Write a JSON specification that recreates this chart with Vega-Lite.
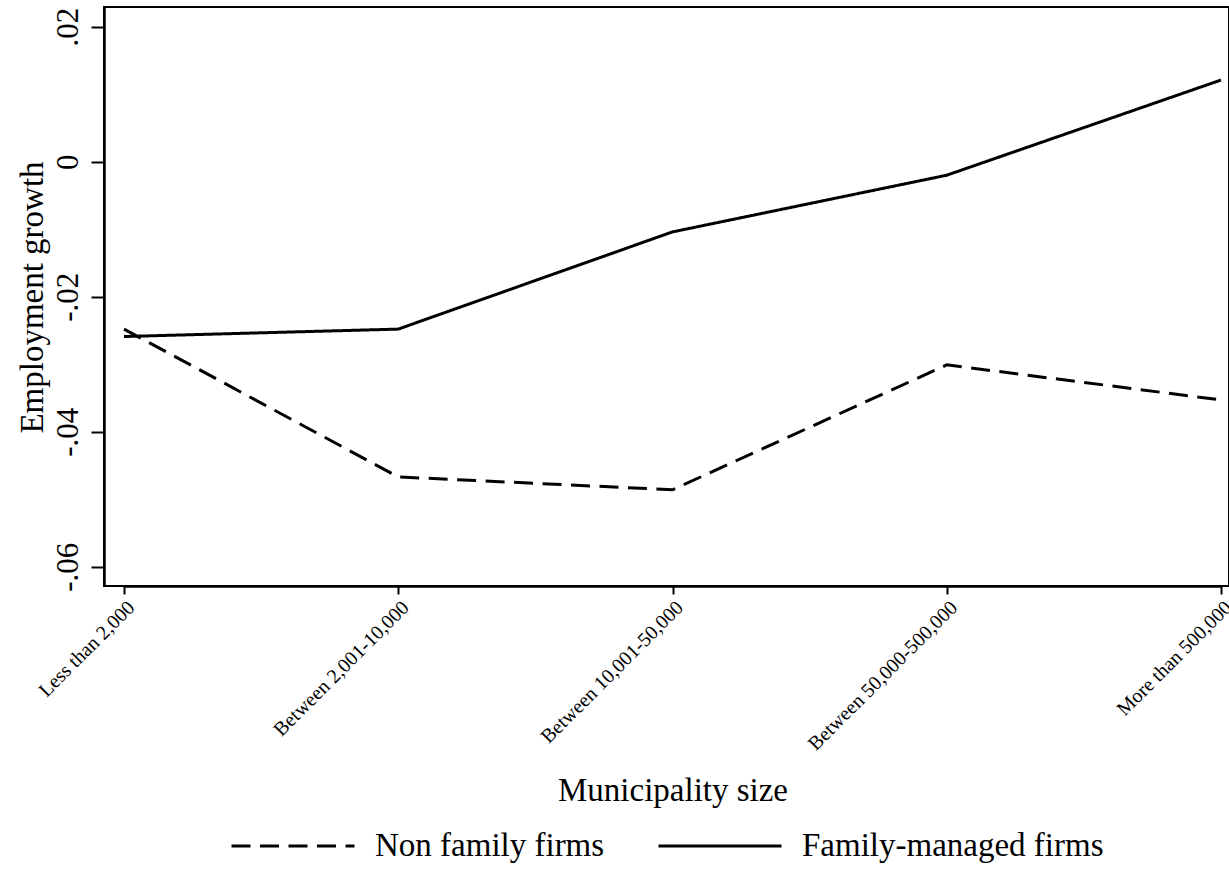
{
  "$schema": "https://vega.github.io/schema/vega-lite/v6.json",
  "width": 1125,
  "height": 579,
  "autosize": {"type": "none"},
  "padding": {"left": 104, "top": 7, "right": 0, "bottom": 283},
  "background": "white",
  "config": {
    "font": "Liberation Serif",
    "view": {"stroke": "black", "strokeWidth": 2},
    "axis": {
      "domainColor": "black",
      "domainWidth": 2.5,
      "tickColor": "black",
      "tickWidth": 2,
      "labelColor": "black",
      "titleColor": "black",
      "labelFont": "Liberation Serif",
      "titleFont": "Liberation Serif",
      "titleFontWeight": "normal",
      "grid": false
    },
    "legend": {"labelFont": "Liberation Serif", "labelColor": "black"}
  },
  "data": {
    "values": [
      {"size": "Less than 2,000", "type": "Non family firms", "growth": -0.0248},
      {"size": "Between 2,001-10,000", "type": "Non family firms", "growth": -0.0467},
      {"size": "Between 10,001-50,000", "type": "Non family firms", "growth": -0.0486},
      {"size": "Between 50,000-500,000", "type": "Non family firms", "growth": -0.0301},
      {"size": "More than 500,000", "type": "Non family firms", "growth": -0.0353},
      {"size": "Less than 2,000", "type": "Family-managed firms", "growth": -0.0259},
      {"size": "Between 2,001-10,000", "type": "Family-managed firms", "growth": -0.0248},
      {"size": "Between 10,001-50,000", "type": "Family-managed firms", "growth": -0.0104},
      {"size": "Between 50,000-500,000", "type": "Family-managed firms", "growth": -0.002},
      {"size": "More than 500,000", "type": "Family-managed firms", "growth": 0.0121}
    ]
  },
  "mark": {"type": "line", "color": "black", "strokeWidth": 3},
  "encoding": {
    "x": {
      "field": "size",
      "type": "ordinal",
      "sort": ["Less than 2,000", "Between 2,001-10,000", "Between 10,001-50,000", "Between 50,000-500,000", "More than 500,000"],
      "scale": {"type": "point", "range": [20, 1117], "padding": 0},
      "axis": {
        "title": "Municipality size",
        "titleFontSize": 33,
        "titleBaseline": "alphabetic",
        "titleY": 214,
        "labelAngle": -45,
        "labelAlign": "right",
        "labelBaseline": "top",
        "labelFontSize": 20,
        "labelPadding": 3,
        "labelLimit": 0,
        "tickSize": 8,
        "labelOverlap": false,
        "labelBound": false
      }
    },
    "y": {
      "field": "growth",
      "type": "quantitative",
      "scale": {"domain": [-0.062859, 0.022919], "nice": false, "zero": false},
      "axis": {
        "title": "Employment growth",
        "titleFontSize": 33,
        "titleAngle": -90,
        "titleBaseline": "alphabetic",
        "titleX": -62,
        "titleY": 290,
        "values": [-0.06, -0.04, -0.02, 0, 0.02],
        "labelExpr": "datum.value == 0 ? '0' : (datum.value < 0 ? '-' + replace(format(-datum.value, '.2f'), '0.', '.') : replace(format(datum.value, '.2f'), '0.', '.'))",
        "labelAngle": -90,
        "labelAlign": "center",
        "labelBaseline": "alphabetic",
        "labelFontSize": 31,
        "labelPadding": 14,
        "tickSize": 13
      }
    },
    "strokeDash": {
      "field": "type",
      "type": "nominal",
      "scale": {"domain": ["Non family firms", "Family-managed firms"], "range": [[19, 9.5], [1, 0]]},
      "legend": {
        "title": null,
        "orient": "none",
        "direction": "horizontal",
        "legendX": 126,
        "legendY": 776,
        "symbolType": "stroke",
        "symbolSize": 15129,
        "symbolStrokeWidth": 3,
        "symbolStrokeColor": "black",
        "labelFontSize": 33,
        "labelOffset": 19,
        "labelLimit": 0,
        "columnPadding": 47,
        "padding": 0
      }
    }
  }
}
